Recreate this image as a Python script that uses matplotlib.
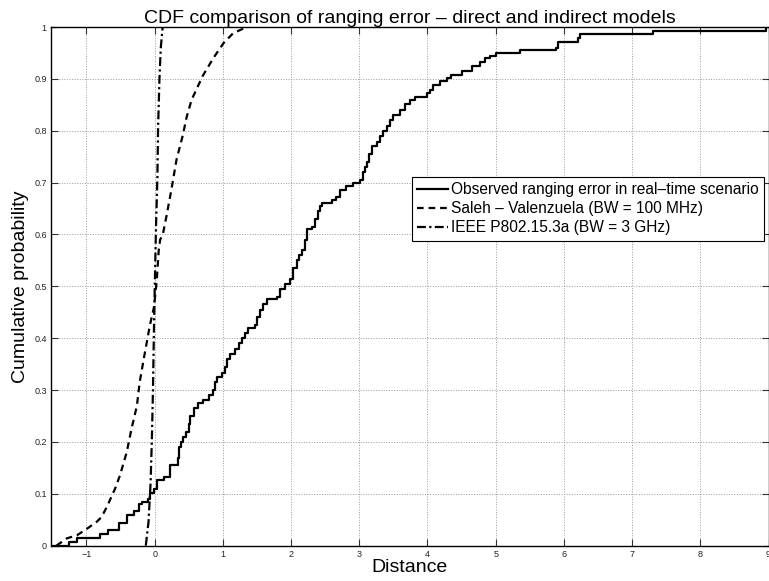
import numpy as np
import matplotlib
matplotlib.use('Agg')
import matplotlib.pyplot as plt

plt.rcParams['font.family'] = ['Liberation Sans', 'DejaVu Sans']

# Observed ranging error (empirical CDF, step start x and level)
obs_x = [-1.52, -1.25, -1.14, -0.80, -0.69, -0.52, -0.40, -0.31, -0.23, -0.18,
         -0.10, -0.07, -0.01, 0.04, 0.13, 0.22, 0.34, 0.36, 0.38, 0.42,
         0.46, 0.50, 0.52, 0.57, 0.64, 0.71, 0.79, 0.85, 0.89, 0.91,
         0.98, 1.03, 1.06, 1.10, 1.18, 1.23, 1.28, 1.32, 1.37, 1.47,
         1.50, 1.54, 1.59, 1.64, 1.79, 1.84, 1.91, 1.98, 2.03, 2.08,
         2.12, 2.16, 2.20, 2.23, 2.30, 2.35, 2.40, 2.43, 2.45, 2.60,
         2.66, 2.72, 2.81, 2.91, 3.01, 3.06, 3.09, 3.11, 3.14, 3.18,
         3.26, 3.30, 3.35, 3.40, 3.45, 3.50, 3.60, 3.67, 3.74, 3.82,
         3.99, 4.04, 4.08, 4.18, 4.28, 4.35, 4.50, 4.65, 4.77, 4.84,
         4.92, 5.01, 5.36, 5.89, 5.92, 6.21, 6.23, 7.31, 8.97, 9.0]
obs_y = [0.0, 0.008, 0.015, 0.022, 0.030, 0.044, 0.059, 0.066, 0.080, 0.085,
         0.090, 0.101, 0.110, 0.127, 0.133, 0.155, 0.170, 0.190, 0.200, 0.210,
         0.220, 0.235, 0.250, 0.265, 0.275, 0.280, 0.290, 0.300, 0.315, 0.325,
         0.333, 0.345, 0.360, 0.370, 0.380, 0.390, 0.400, 0.410, 0.420, 0.425,
         0.440, 0.454, 0.465, 0.475, 0.480, 0.495, 0.505, 0.515, 0.535, 0.550,
         0.560, 0.570, 0.590, 0.610, 0.615, 0.630, 0.645, 0.655, 0.660, 0.666,
         0.672, 0.686, 0.694, 0.700, 0.706, 0.720, 0.730, 0.740, 0.755, 0.770,
         0.778, 0.789, 0.800, 0.810, 0.820, 0.830, 0.840, 0.852, 0.860, 0.866,
         0.872, 0.878, 0.888, 0.895, 0.902, 0.908, 0.915, 0.924, 0.932, 0.940,
         0.944, 0.949, 0.955, 0.959, 0.972, 0.979, 0.986, 0.992, 1.0, 1.0]

# Saleh - Valenzuela model (BW = 100 MHz)
sv_x = [-1.44, -1.29, -1.14, -1.0, -0.85, -0.78, -0.70, -0.58, -0.51, -0.41,
        -0.34, -0.26, -0.22, -0.16, -0.07, -0.01, 0.03, 0.06, 0.08, 0.12,
        0.18, 0.25, 0.32, 0.41, 0.47, 0.54, 0.62, 0.71, 0.86, 1.01,
        1.15, 1.35]
sv_y = [0.0, 0.014, 0.020, 0.032, 0.046, 0.055, 0.075, 0.110, 0.135, 0.180,
        0.225, 0.270, 0.315, 0.360, 0.425, 0.460, 0.510, 0.570, 0.590, 0.600,
        0.640, 0.690, 0.744, 0.790, 0.827, 0.859, 0.882, 0.907, 0.940, 0.969,
        0.988, 1.0]

# IEEE P802.15.3a model (BW = 3 GHz)
ieee_x = [-0.13, -0.09, -0.06, -0.04, -0.025, -0.01, 0.0, 0.02, 0.04, 0.05,
          0.07, 0.09, 0.117]
ieee_y = [0.0, 0.046, 0.12, 0.21, 0.30, 0.42, 0.49, 0.616, 0.71, 0.805,
          0.90, 0.96, 1.0]

x_ticks = [-1, 0, 1, 2, 3, 4, 5, 6, 7, 8, 9]
y_ticks = [0, 0.1, 0.2, 0.3, 0.4, 0.5, 0.6, 0.7, 0.8, 0.9, 1]

fig = plt.figure(figsize=(7.69, 5.81), dpi=100)
ax = fig.add_axes([0.0663, 0.0608, 0.9331, 0.8927])

ax.plot(obs_x, obs_y, color='k', lw=1.6, drawstyle='steps-post',
        label='Observed ranging error in real\u2013time scenario')
ax.plot(sv_x, sv_y, color='k', lw=1.6, ls=(0, (3, 2.2)),
        label='Saleh \u2013 Valenzuela (BW = 100 MHz)')
ax.plot(ieee_x, ieee_y, color='k', lw=1.6, ls=(0, (4, 1.5, 1, 1.5)),
        label='IEEE P802.15.3a (BW = 3 GHz)')

ax.set_xlim(-1.52, 9)
ax.set_ylim(0, 1)
ax.set_xticks(x_ticks)
ax.set_yticks(y_ticks)
ax.set_xticklabels(['\u22121'] + [str(v) for v in x_ticks[1:]])
ax.set_yticklabels(['0', '0.1', '0.2', '0.3', '0.4', '0.5', '0.6', '0.7', '0.8', '0.9', '1'])
ax.tick_params(direction='in', length=5, width=0.8, labelsize=6.5, pad=3,
               top=True, right=True, colors='#333333', labelcolor='#222222')
ax.grid(True, ls=':', color='#999999', lw=0.7)
for s in ax.spines.values():
    s.set_linewidth(1.0)
    s.set_color('k')

ax.set_title('CDF comparison of ranging error \u2013 direct and indirect models',
             fontsize=14, pad=3)
ax.set_xlabel('Distance', fontsize=14, labelpad=0)
ax.set_ylabel('Cumulative probability', fontsize=14, labelpad=4)

leg = ax.legend(loc='upper left', bbox_to_anchor=(0.503, 0.711), fontsize=11.2,
                handlelength=2.0, handletextpad=0.15, borderpad=0.35,
                labelspacing=0.25, borderaxespad=0, fancybox=False,
                framealpha=1)
leg.get_frame().set_edgecolor('k')
leg.get_frame().set_linewidth(0.8)

fig.savefig('out.png', dpi=100)
